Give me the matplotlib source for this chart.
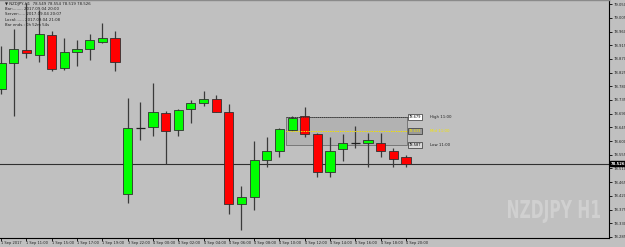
import matplotlib
matplotlib.use("Agg")
import matplotlib.pyplot as plt
from matplotlib.patches import Rectangle, PathPatch
from matplotlib.textpath import TextPath
from matplotlib.font_manager import FontProperties
from matplotlib.transforms import Affine2D

# ---------------- data ----------------
opens  = [78.771, 78.857, 78.899, 78.883, 78.949, 78.840, 78.893, 78.903, 78.926, 78.939,
          78.426, 78.643, 78.646, 78.692, 78.636, 78.705, 78.725, 78.738, 78.696, 78.393,
          78.416, 78.538, 78.568, 78.636, 78.683, 78.623, 78.499, 78.574, 78.594, 78.594,
          78.594, 78.568, 78.549]
highs  = [78.912, 78.968, 79.054, 79.031, 78.962, 78.939, 78.932, 78.952, 78.988, 78.962,
          78.742, 78.728, 78.791, 78.699, 78.705, 78.735, 78.765, 78.751, 78.722, 78.453,
          78.600, 78.613, 78.643, 78.683, 78.712, 78.627, 78.613, 78.623, 78.650, 78.627,
          78.627, 78.577, 78.554]
lows   = [78.755, 78.683, 78.873, 78.860, 78.830, 78.834, 78.847, 78.866, 78.922, 78.830,
          78.397, 78.604, 78.617, 78.525, 78.617, 78.659, 78.715, 78.696, 78.361, 78.308,
          78.374, 78.515, 78.548, 78.633, 78.613, 78.482, 78.482, 78.535, 78.577, 78.515,
          78.548, 78.515, 78.515]
closes = [78.857, 78.903, 78.889, 78.952, 78.837, 78.893, 78.903, 78.932, 78.939, 78.860,
          78.643, 78.643, 78.696, 78.633, 78.702, 78.725, 78.738, 78.696, 78.393, 78.416,
          78.538, 78.568, 78.640, 78.676, 78.623, 78.499, 78.568, 78.594, 78.594, 78.604,
          78.568, 78.541, 78.526]

time_labels = ["1 Sep 2017", "1 Sep 11:00", "1 Sep 15:00", "1 Sep 17:00", "1 Sep 19:00",
               "3 Sep 22:00", "4 Sep 00:00", "4 Sep 02:00", "4 Sep 04:00", "4 Sep 06:00",
               "4 Sep 08:00", "4 Sep 10:00", "4 Sep 12:00", "4 Sep 14:00", "4 Sep 16:00",
               "4 Sep 18:00", "4 Sep 20:00"]
time_label_bars = [0, 2, 4, 6, 8, 10, 12, 14, 16, 18, 20, 22, 24, 26, 28, 30, 32]

price_ticks = [78.285, 78.330, 78.375, 78.420, 78.465, 78.510, 78.555, 78.600, 78.645,
               78.690, 78.735, 78.780, 78.825, 78.870, 78.915, 78.960, 79.005, 79.050]

range_high, range_mid, range_low = 78.679, 78.633, 78.587
range_labels = ["High 11:00", "Mid 11:00", "Low 11:00"]
range_start, range_end = 23, 32

header_lines = ["\u25bc NZDJPY,H1  78.549 78.554 78.519 78.526",
                "Bar:........ 2017.09.04 20:00",
                "Server:..... 2017.09.04 20:07",
                "Local:...... 2017.09.04 21:08",
                "Bar ends.: 0h 52m 54s"]

watermark = "NZDJPY H1"

# ---------------- figure ----------------
W, H = 625, 247
BG = "#c0c0c0"
fig = plt.figure(figsize=(W / 100, H / 100), dpi=100, facecolor=BG)
ax = fig.add_axes([0, 9 / H, 609 / W, 238 / H], facecolor=BG)

step = 12.65
x0 = 1.15
ax.set_xlim(-x0 / step, (609 - x0) / step)
ppp = 0.045 / 13.7  # price per pixel
ax.set_ylim(78.285 - 1 * ppp, 78.285 + 237 * ppp)

for s in ["top", "left"]:
    ax.spines[s].set_visible(False)
for s in ["right", "bottom"]:
    ax.spines[s].set_color("black")
    ax.spines[s].set_linewidth(0.8)

# watermark (condensed bold, fitted into its box)
tp = TextPath((0, 0), watermark, size=20, prop=FontProperties(family="DejaVu Sans", weight="bold"))
ext = tp.get_extents()
tx0, tx1, ty0, ty1 = 508, 600, 24, 47  # pixel box (from bottom-left)
sx = (tx1 - tx0) / ext.width
sy = (ty1 - ty0) / ext.height
tr = Affine2D().translate(-ext.x0, -ext.y0).scale(sx / 100, sy / 100).translate(tx0 / 100, ty0 / 100)
fig.add_artist(PathPatch(tp, transform=tr + fig.dpi_scale_trans, facecolor="#d0d0d0",
                         edgecolor="none", zorder=0.5))

# range box
ax.add_patch(Rectangle((range_start - 0.45, range_low), range_end - range_start + 0.55,
                       range_high - range_low, facecolor="#b2b2b2", edgecolor="#777777",
                       linewidth=0.7, zorder=1))
ax.hlines(range_high, range_start - 0.45, range_end + 0.25, colors="#303030",
          linestyles=(0, (1.5, 1)), linewidth=0.6, zorder=4)
ax.hlines(range_mid, range_start - 0.45, range_end + 0.25, colors="#f0e000",
          linestyles=(0, (1.5, 1)), linewidth=0.7, zorder=4)

# current price line
last_close = closes[-1]
ax.axhline(last_close, color="#303030", linewidth=0.8, zorder=1.5)

# candles
xs = list(range(len(opens)))
ax.vlines(xs, lows, highs, colors="#3a3a3a", linewidth=0.9, zorder=2)
bw = 0.72
for i, (o, h, l, c) in enumerate(zip(opens, highs, lows, closes)):
    if abs(c - o) < 0.0012:
        ax.hlines(c, i - bw / 2, i + bw / 2, colors="#202020", linewidth=0.9, zorder=3)
        continue
    col = "#00ff00" if c > o else "#ff0000"
    ax.bar(i, abs(c - o), bottom=min(o, c), width=bw, color=col,
           edgecolor="#303030", linewidth=0.6, zorder=3)

# range labels
lab_x = (409 - x0) / step
for val, lbl, tcol, fc in [(range_high, range_labels[0], "black", "white"),
                           (range_mid, range_labels[1], "#f5e600", "#9a9a9a"),
                           (range_low, range_labels[2], "black", "#d8d8d8")]:
    ax.text(lab_x, val, f"{val:.3f}", fontsize=2.6, color=tcol, va="center", ha="left",
            bbox=dict(boxstyle="square,pad=0.25", facecolor=fc, edgecolor="#303030",
                      linewidth=0.5), zorder=5)
    ax.text((430 - x0) / step, val, lbl, fontsize=2.8,
            color=tcol if tcol != "black" else "#202020",
            va="center", ha="left", zorder=5)

# y axis on right
ax.yaxis.tick_right()
ax.set_yticks(price_ticks)
ax.set_yticklabels([f"{p:.3f}" for p in price_ticks], fontsize=2.7, color="#202020")
ax.tick_params(axis="y", length=2, width=0.6, pad=1, color="black")

# x axis
ax.set_xticks(time_label_bars)
ax.set_xticklabels(time_labels, fontsize=2.6, color="#202020", ha="left")
ax.tick_params(axis="x", length=2, width=0.6, pad=0.5, color="black", direction="out")

# current price tag
ax.text(1.003, last_close, f"{last_close:.3f}", transform=ax.get_yaxis_transform(),
        fontsize=2.7, color="white", va="center", ha="left", fontweight="bold",
        bbox=dict(boxstyle="square,pad=0.2", facecolor="black", edgecolor="black"),
        zorder=6, clip_on=False)

# header text
for k, line in enumerate(header_lines):
    fig.text(5 / W, 1 - (4 + k * 5.2) / H, line, fontsize=2.8, color="#202020",
             va="center", ha="left")

# top border
fig.add_artist(plt.Line2D([0, 609 / W], [1 - 0.5 / H, 1 - 0.5 / H], color="#8a8a8a",
                          linewidth=1.0))

fig.savefig("out.png", dpi=100, facecolor=BG)
